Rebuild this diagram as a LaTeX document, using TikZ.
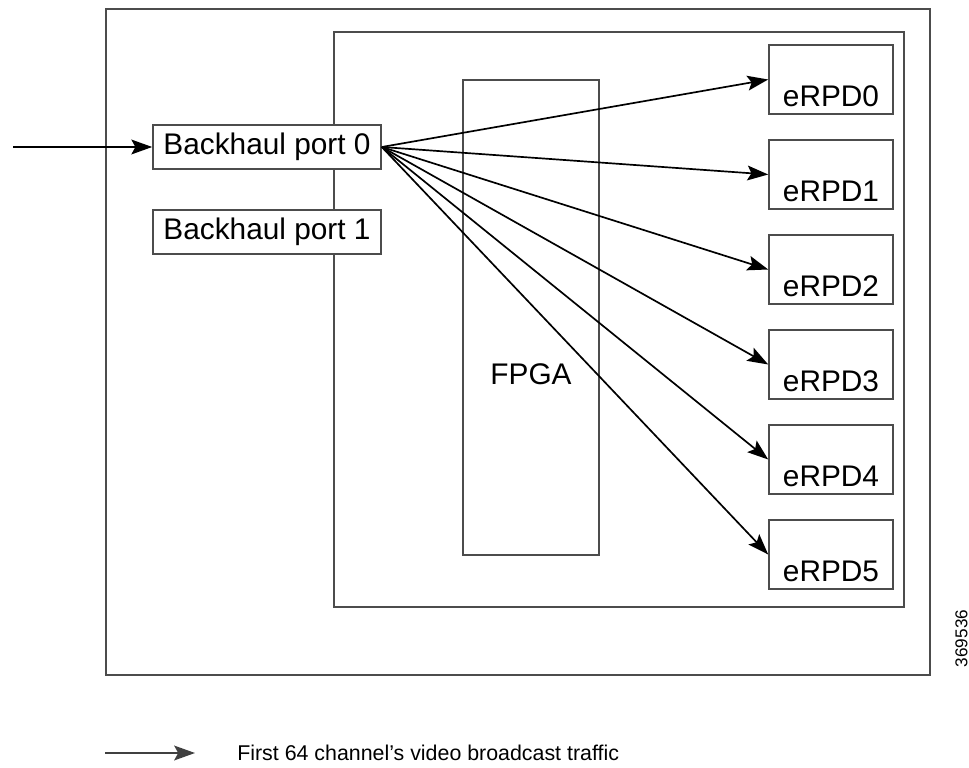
\documentclass[tikz,border=0pt]{standalone}
\usepackage{fontspec}
\setmainfont{Liberation Sans}
\usetikzlibrary{arrows.meta}

\begin{document}
\begin{tikzpicture}[x=0.025cm, y=-0.025cm,
  frame/.style={draw=black!70, line width=1.1pt},
  port/.style={frame, fill=white, rectangle,
               minimum width=5.7cm, minimum height=1.1cm,
               inner sep=0pt, font=\fontsize{21.2}{25}\selectfont},
  rpd/.style={frame, fill=white, rectangle,
              minimum width=3.1cm, minimum height=1.725cm, inner sep=0pt},
  rpdlbl/.style={above, inner sep=0pt, yshift=0.2cm,
                 font=\fontsize{21.2}{25}\selectfont},
  flow/.style={draw=black, line width=1.2pt,
               -{Stealth[length=0.52cm, width=0.37cm, inset=0.1cm]}},
]
\useasboundingbox (0,0) rectangle (969,768);
\def\sp{95}  % spacing of the eRPD boxes
% Chassis and line card
\draw[frame] (106,9) rectangle (930,675);
\draw[frame] (334,32) rectangle (904,607);
% FPGA
\node[frame, rectangle, minimum width=3.4cm, minimum height=11.875cm,
      inner sep=0pt] (fpga) at (531,317.5) {};
\node[font=\fontsize{21.2}{25}\selectfont] (fpgalbl) at (531,374) {FPGA};
% Backhaul ports
\node[port] (port0) at (267,147) {Backhaul port 0};
\node[port] (port1) at (267,232) {Backhaul port 1};
% eRPD boxes
\foreach \i in {0,...,5}
  \node[rpd, label={[rpdlbl]south:eRPD\i}] (rpd\i) at (831,79.5+\i*\sp) {};
% Traffic
\coordinate (feed) at (13,147);
\draw[flow] (feed) -- (port0.west);
\foreach \i in {0,...,5}
  \draw[flow] (port0.east) -- (rpd\i.west);
% Figure number
\node[rotate=90, font=\fontsize{12.2}{14}\selectfont] (fignum) at (961.5,638.5) {369536};
% Legend
\coordinate (lgA) at (105,753);
\coordinate (lgB) at (195,753);
\draw[flow, draw=black!75] (lgA) -- (lgB);
\node[anchor=west, inner sep=0pt, font=\fontsize{15.2}{18}\selectfont] (lgtxt) at (237,753)
  {First 64 channel's video broadcast traffic};
\end{tikzpicture}
\end{document}
